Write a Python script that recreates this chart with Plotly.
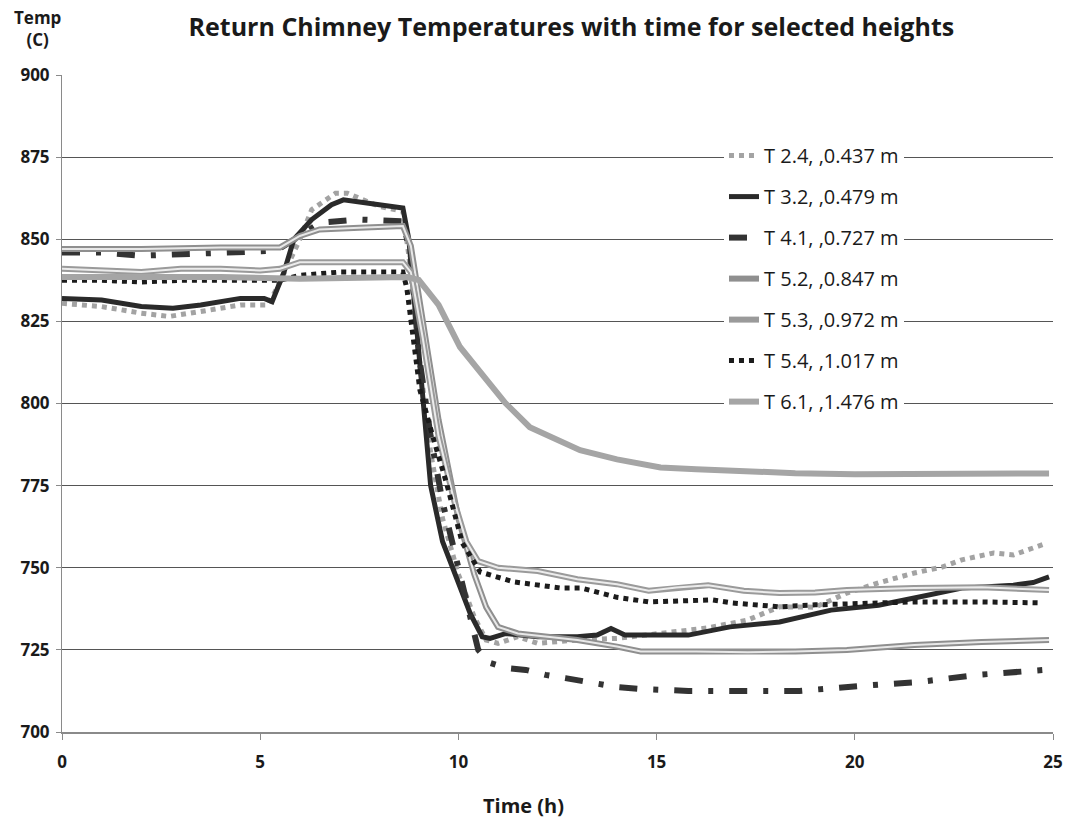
import plotly.graph_objects as go

# ---- measured series: time (h) and temperature (C) ----
t_24 = [0, 1, 2, 2.7, 3.5, 4.5, 5.2, 5.5, 6.0, 6.3, 6.9, 7.2, 7.6, 8.0, 8.6, 8.75, 9.0, 9.3, 9.6, 10.0, 10.4, 10.7, 11.0, 11.5, 12.0, 13.0, 14.0, 15.0, 16.3, 17.3, 18.1, 19.0, 19.8, 20.6, 21.5, 22.2, 22.7, 23.5, 24.0, 24.85]
v_24 = [830.5, 829.5, 827.5, 826.5, 828, 830, 830, 837, 850, 859, 864, 864, 862, 860, 858.5, 845, 815, 785, 765, 748, 735, 728, 727, 729, 727, 728, 728.5, 730, 731.7, 734.1, 738.1, 738, 742.3, 745.4, 748.4, 750.2, 752.4, 754.5, 753.9, 757.5]

t_32 = [0, 1, 2, 2.8, 3.5, 4.5, 5.1, 5.3, 5.6, 5.85, 6.3, 6.8, 7.1, 7.8, 8.3, 8.6, 8.75, 9.0, 9.3, 9.6, 10.0, 10.3, 10.6, 10.8, 11.2, 12.0, 13.0, 13.5, 13.85, 14.2, 15.0, 15.8, 16.85, 18.1, 19.4, 20.6, 21.5, 22.7, 24.0, 24.5, 24.9]
v_32 = [832, 831.5, 829.5, 829, 830, 832, 832, 831, 840, 850, 856, 860.5, 862, 861, 860, 859.5, 850, 815, 775, 758, 745, 736, 729, 728.5, 730, 729, 729, 729.5, 731.5, 729.5, 729.5, 729.5, 732, 733.5, 737.1, 738.6, 740.8, 743.8, 744.7, 745.5, 747.2]

t_41 = [0, 1, 2, 3, 4, 5, 5.4, 6.0, 6.5, 7.5, 8.6, 8.8, 9.0, 9.3, 9.6, 10.0, 10.5, 10.8, 11.2, 11.7, 12.2, 12.7, 13.3, 14.0, 14.6, 15.8, 17.3, 18.6, 20.1, 21.6, 23.1, 24.4, 24.9]
v_41 = [846, 846, 845, 845.5, 846, 846.5, 846.5, 851, 855, 856, 855.5, 845, 815, 790, 770, 750, 725, 721, 719.5, 718.9, 717.4, 716.4, 715.2, 713.7, 713.1, 712.5, 712.5, 712.5, 714, 715.2, 717.4, 718.6, 719]

t_52 = [0, 2, 4, 5.5, 6.0, 6.5, 7.5, 8.6, 8.8, 9.1, 9.5, 10.0, 10.4, 10.7, 11.0, 11.5, 13.0, 14.0, 14.6, 16.0, 17.3, 18.5, 19.8, 21.5, 23.2, 24.9]
v_52 = [847, 847, 847.5, 847.5, 851, 853, 853.5, 854, 848, 825, 795, 765, 748, 738, 732, 730, 728, 726, 724.5, 724.5, 724.3, 724.5, 725, 726.5, 727.4, 728]

t_53 = [0, 1, 2, 3, 4, 5, 5.5, 6.0, 7.0, 8.6, 8.8, 9.1, 9.5, 9.9, 10.2, 10.5, 11.0, 12.0, 13.0, 14.0, 14.8, 15.5, 16.3, 17.2, 18.1, 19.0, 19.8, 21.5, 23.2, 24.9]
v_53 = [841, 840.5, 840, 841, 841, 840.5, 841, 843, 843, 843, 840, 820, 790, 770, 758, 752, 750, 749, 746.5, 745, 743, 744, 744.7, 743, 742.3, 742.5, 743.2, 743.8, 744.1, 743.2]

t_54 = [0, 1, 2, 3, 4, 5, 5.5, 6.0, 7.0, 8.0, 8.6, 8.7, 9.03, 9.4, 9.7, 10.1, 10.55, 11.4, 12.6, 13.1, 14.0, 14.8, 15.5, 16.4, 16.9, 18.1, 19.0, 20.2, 21.5, 23.2, 24.7]
v_54 = [837.5, 837.5, 837, 837.5, 837.5, 837.5, 837.5, 839, 840, 840, 840, 835, 804, 788, 775.8, 757.5, 748.7, 745.7, 743.8, 743.8, 741, 739.6, 740, 740.2, 739.3, 738.1, 738.7, 739.3, 739.6, 739.6, 739.3]

t_61 = [0, 2, 4, 6, 8, 8.7, 9.0, 9.5, 10.04, 10.55, 11.18, 11.8, 12.5, 13.07, 14.0, 15.1, 16.0, 17.0, 18.5, 20.0, 22.0, 24.9]
v_61 = [838.5, 838.5, 838.5, 838, 838.5, 838.5, 837.6, 830, 817.2, 809.3, 800.2, 792.8, 789, 785.8, 783, 780.5, 780, 779.5, 778.8, 778.5, 778.5, 778.7]

names = ["T 2.4, ,0.437 m", "T 3.2, ,0.479 m", "T 4.1, ,0.727 m", "T 5.2, ,0.847 m",
         "T 5.3, ,0.972 m", "T 5.4, ,1.017 m", "T 6.1, ,1.476 m"]

y_ticks = [700, 725, 750, 775, 800, 825, 850, 875, 900]
x_ticks = [0, 5, 10, 15, 20, 25]

FONT = "Open Sans"
INK = "#1a1a1a"

fig = go.Figure()


def add_line(t, v, name, group, color, width, dash="solid", legend=True):
    fig.add_trace(go.Scatter(
        x=t, y=v, mode="lines", name=name, legendgroup=group, showlegend=legend,
        line=dict(color=color, width=width, dash=dash), hoverinfo="skip"))


add_line(t_24, v_24, names[0], "g1", "#a3a3a3", 5, "5px,5px")
add_line(t_32, v_32, names[1], "g2", "#2a2a2a", 5)
add_line(t_41, v_41, names[2], "g3", "#333333", 6, "18px,16px,5px,16px")
# double-stroke lines: gray outer stroke with a pale core
add_line(t_52, v_52, names[3], "g4", "#8f8f8f", 6)
add_line(t_52, v_52, names[3], "g4", "#e8e8e8", 2, legend=False)
add_line(t_53, v_53, names[4], "g5", "#9a9a9a", 6)
add_line(t_53, v_53, names[4], "g5", "#ececec", 2, legend=False)
add_line(t_54, v_54, names[5], "g6", "#1c1c1c", 5, "5px,5px")
add_line(t_61, v_61, names[6], "g7", "#a5a5a5", 6)

plot_w, plot_h = 1074 - 62 - 21, 826 - 75 - 94

fig.update_layout(
    width=1074, height=826,
    margin=dict(l=62, r=21, t=75, b=94),
    paper_bgcolor="white", plot_bgcolor="white",
    font=dict(family=FONT, color=INK),
    title=dict(text="<b>Return Chimney Temperatures with time for selected heights</b>",
               font=dict(family=FONT, size=25, color=INK),
               x=0.532, xref="container", xanchor="center",
               y=1 - 27 / 826, yref="container", yanchor="middle"),
    showlegend=True,
    legend=dict(x=0.668, y=0.907, xanchor="left", yanchor="top",
                bgcolor="white", borderwidth=0,
                traceorder="grouped", tracegroupgap=12,
                font=dict(family=FONT, size=20, color=INK)),
    xaxis=dict(range=[0, 25], tickvals=x_ticks, ticktext=[str(v) for v in x_ticks],
               showgrid=False, zeroline=False,
               showline=True, linecolor="#8a8a8a", linewidth=2,
               ticks="outside", ticklen=6, tickcolor="#8a8a8a", tickwidth=1,
               ticklabelstandoff=8,
               tickfont=dict(family=FONT, size=17, color=INK, weight="bold")),
    yaxis=dict(range=[700, 900], tickvals=y_ticks, ticktext=[str(v) for v in y_ticks],
               showgrid=True, gridcolor="#555555", gridwidth=1, zeroline=False,
               showline=True, linecolor="#8a8a8a", linewidth=1,
               ticks="outside", ticklen=5, tickcolor="#8a8a8a", tickwidth=1,
               ticklabelstandoff=3,
               tickfont=dict(family=FONT, size=17, color=INK, weight="bold")),
    annotations=[
        dict(text="<b>Temp<br>(C)</b>", xref="paper", yref="paper",
             x=(37 - 62) / plot_w, y=(826 - 94 - 28) / plot_h,
             xanchor="center", yanchor="middle",
             showarrow=False, font=dict(family=FONT, size=17, color=INK)),
        dict(text="<b>Time (h)</b>", xref="paper", yref="paper",
             x=(523 - 62) / plot_w, y=-(805 - 732) / plot_h,
             xanchor="center", yanchor="middle",
             showarrow=False, font=dict(family=FONT, size=20, color=INK)),
    ],
)

fig.write_html("out.html")
